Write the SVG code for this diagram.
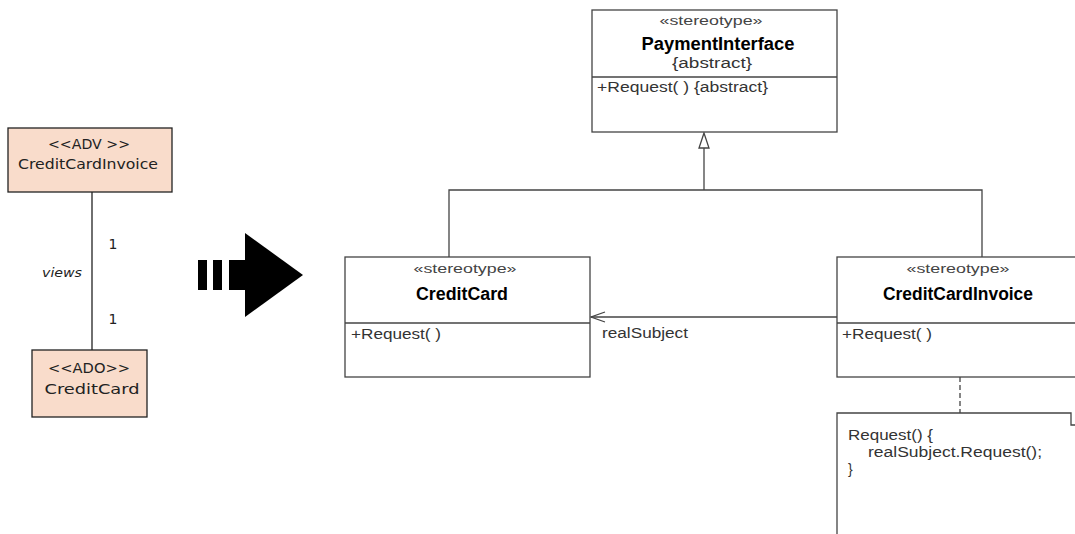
<svg xmlns="http://www.w3.org/2000/svg" width="1075" height="534" viewBox="0 0 1075 534">
<style>
.lbox{fill:#f9dccb;stroke:#222;stroke-width:1.3}
.lt{font-family:"DejaVu Sans",sans-serif;font-size:14px;fill:#222;text-anchor:middle}
.cls{fill:#fff;stroke:#444;stroke-width:1.3}
.ln{stroke:#444;stroke-width:1.3;fill:none}
.st{font-family:"Liberation Sans",Arial,sans-serif;font-size:12px;fill:#444;text-anchor:middle}
.nm{font-family:"Liberation Sans",Arial,sans-serif;font-size:18px;font-weight:bold;fill:#000;text-anchor:middle}
.tx{font-family:"Liberation Sans",Arial,sans-serif;font-size:14px;fill:#333}
</style>
<g id="connectors">
<line x1="92" y1="192" x2="92" y2="350" stroke="#222" stroke-width="1.3"/>
<text class="lt" x="113" y="249">1</text>
<text class="lt" x="113" y="324">1</text>
<text class="lt" x="62" y="277" style="font-style:italic;font-size:12px" textLength="40" lengthAdjust="spacingAndGlyphs">views</text>
<polyline class="ln" points="449,257 449,190 982,190 982,257"/>
<line class="ln" x1="704" y1="190" x2="704" y2="148"/>
<polygon points="704,133 699,148 709,148" fill="#fff" stroke="#444" stroke-width="1.3"/>
<line class="ln" x1="837" y1="317" x2="591" y2="317"/>
<polyline class="ln" points="605,312 591,317 605,322"/>
<text class="tx" x="602" y="338" textLength="86" lengthAdjust="spacingAndGlyphs">realSubject</text>
<line class="ln" x1="960" y1="377" x2="960" y2="413" stroke-dasharray="5,3"/>
</g>
<g id="adv-creditcardinvoice">
<rect class="lbox" x="8" y="128" width="164" height="64"/>
<text class="lt" x="89" y="149" textLength="82" lengthAdjust="spacingAndGlyphs">&lt;&lt;ADV &gt;&gt;</text>
<text class="lt" x="88" y="169" textLength="140" lengthAdjust="spacingAndGlyphs">CreditCardInvoice</text>
</g>
<g id="ado-creditcard">
<rect class="lbox" x="32" y="350" width="115" height="67"/>
<text class="lt" x="89" y="373" textLength="82" lengthAdjust="spacingAndGlyphs">&lt;&lt;ADO&gt;&gt;</text>
<text class="lt" x="92" y="394" textLength="95" lengthAdjust="spacingAndGlyphs">CreditCard</text>
</g>
<g id="big-arrow" fill="#000">
<rect x="198" y="260" width="9" height="30"/>
<rect x="213" y="260" width="9" height="30"/>
<rect x="229" y="260" width="18" height="30"/>
<polygon points="245,233 303,275 245,317"/>
</g>
<g id="paymentinterface">
<rect class="cls" x="592" y="10" width="245" height="122"/>
<line class="ln" x1="592" y1="77" x2="837" y2="77"/>
<text class="st" x="711" y="25" textLength="103" lengthAdjust="spacingAndGlyphs">«stereotype»</text>
<text class="nm" x="718" y="50" textLength="153" lengthAdjust="spacingAndGlyphs">PaymentInterface</text>
<text class="tx" x="712" y="68" text-anchor="middle" textLength="80" lengthAdjust="spacingAndGlyphs">{abstract}</text>
<text class="tx" x="597" y="92" textLength="171" lengthAdjust="spacingAndGlyphs">+Request( ) {abstract}</text>
</g>
<g id="creditcard">
<rect class="cls" x="345" y="257" width="245" height="120"/>
<line class="ln" x1="345" y1="323" x2="590" y2="323"/>
<text class="st" x="465" y="273" textLength="103" lengthAdjust="spacingAndGlyphs">«stereotype»</text>
<text class="nm" x="462" y="300" textLength="92" lengthAdjust="spacingAndGlyphs">CreditCard</text>
<text class="tx" x="351" y="339" textLength="90" lengthAdjust="spacingAndGlyphs">+Request( )</text>
</g>
<g id="creditcardinvoice">
<rect class="cls" x="837" y="257" width="260" height="120"/>
<line class="ln" x1="837" y1="323" x2="1075" y2="323"/>
<text class="st" x="958" y="273" textLength="103" lengthAdjust="spacingAndGlyphs">«stereotype»</text>
<text class="nm" x="958" y="300" textLength="150" lengthAdjust="spacingAndGlyphs">CreditCardInvoice</text>
<text class="tx" x="842" y="339" textLength="90" lengthAdjust="spacingAndGlyphs">+Request( )</text>
</g>
<g id="note">
<path class="cls" d="M837,540 L837,413 L1071,413 L1071,425 L1080,425 L1080,540"/>
<text class="tx" x="848" y="440" textLength="85" lengthAdjust="spacingAndGlyphs">Request() {</text>
<text class="tx" x="868" y="457" textLength="174" lengthAdjust="spacingAndGlyphs">realSubject.Request();</text>
<text class="tx" x="848" y="474">}</text>
</g>
</svg>
